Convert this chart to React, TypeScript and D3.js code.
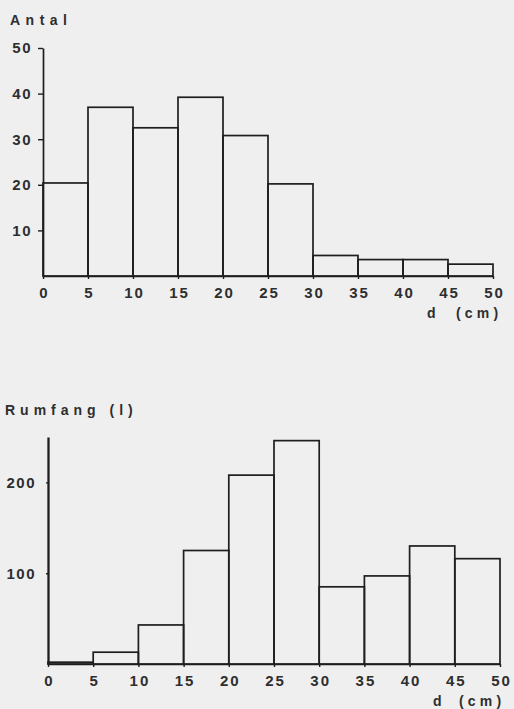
import React, { useRef, useEffect } from "react";
import { select, scaleLinear, axisLeft, axisBottom, range } from "d3";

// class edges for diameter d (cm)
const binStarts = [0, 5, 10, 15, 20, 25, 30, 35, 40, 45];
const binWidth = 5;
// number of trees per diameter class
const antal = [20.4, 37, 32.5, 39.2, 30.8, 20.2, 4.5, 3.6, 3.6, 2.6];
// volume (l) per diameter class
const rumfang = [2, 13, 43, 125, 208, 246, 85, 97, 130, 116];
const antalTicks = [10, 20, 30, 40, 50];
const rumfangTicks = [100, 200];
const xTicks = range(0, 55, 5);

const W = 514;
const H = 709;
const INK = "#1e1e1e";
const TXT = "#2e2e2e";
const FONT = "'Liberation Sans', Arial, sans-serif";

function drawPanel(svg, opts) {
  const { values, yMax, yTicks, left, right, top, bottom, tickLen, title, titleX, titleY, titleLs, unitY, dX, cmX, labelGap, axisW } = opts;
  const x = scaleLinear().domain([0, 50]).range([left, right]);
  const y = scaleLinear().domain([0, yMax]).range([bottom, top]);

  const g = svg.append("g");

  // bars
  g.selectAll("rect.bar")
    .data(binStarts.map((s, i) => ({ s, v: values[i] })))
    .join("rect")
    .attr("class", "bar")
    .attr("x", (d) => x(d.s))
    .attr("width", (d) => x(d.s + binWidth) - x(d.s))
    .attr("y", (d) => y(d.v))
    .attr("height", (d) => y(0) - y(d.v))
    .attr("fill", "none")
    .attr("stroke", INK)
    .attr("stroke-width", 1.7);

  // y axis
  const ya = g.append("g")
    .attr("transform", `translate(${left},0)`)
    .call(axisLeft(y).tickValues(yTicks).tickSize(tickLen).tickSizeOuter(0).tickPadding(labelGap).tickFormat((d) => String(d)));
  ya.select(".domain").attr("stroke", INK).attr("stroke-width", axisW);
  ya.selectAll(".tick line").attr("stroke", INK).attr("stroke-width", 1.4);
  ya.selectAll(".tick text")
    .attr("fill", TXT)
    .attr("font-family", FONT)
    .attr("font-weight", "bold")
    .attr("font-size", 15)
    .attr("letter-spacing", 1.5);

  // x axis
  const xa = g.append("g")
    .attr("transform", `translate(0,${bottom})`)
    .call(axisBottom(x).tickValues(xTicks).tickSize(3).tickSizeOuter(0).tickPadding(8).tickFormat((d) => String(d)));
  xa.select(".domain").attr("stroke", INK).attr("stroke-width", 1.7);
  xa.selectAll(".tick line").attr("stroke", INK).attr("stroke-width", 1.4);
  xa.selectAll(".tick text")
    .attr("fill", TXT)
    .attr("font-family", FONT)
    .attr("font-weight", "bold")
    .attr("font-size", 15)
    .attr("letter-spacing", 2)
    .attr("dx", 1);

  const label = (txt, px, py, ls, fs) =>
    g.append("text")
      .attr("x", px)
      .attr("y", py)
      .attr("fill", TXT)
      .attr("font-family", FONT)
      .attr("font-weight", "bold")
      .attr("font-size", fs)
      .attr("letter-spacing", ls)
      .text(txt);

  label(title, titleX, titleY, titleLs, 14);
  label("d", dX, unitY, 0, 14);
  label("(cm)", cmX, unitY, 4.2, 14);
}

export default function App() {
  const ref = useRef(null);

  useEffect(() => {
    const svg = select(ref.current);
    svg.selectAll("*").remove();
    svg.append("rect").attr("width", W).attr("height", H).attr("fill", "#efefef");

    drawPanel(svg, {
      values: antal, yMax: 50, yTicks: antalTicks,
      left: 43, right: 493, top: 48, bottom: 276,
      tickLen: 5, labelGap: 6, axisW: 1.7,
      title: "Antal", titleX: 10, titleY: 25, titleLs: 5.5,
      unitY: 318, dX: 427, cmX: 456,
    });

    drawPanel(svg, {
      values: rumfang, yMax: 250, yTicks: rumfangTicks,
      left: 48, right: 500, top: 437, bottom: 664,
      tickLen: 2, labelGap: 10, axisW: 2.3,
      title: "Rumfang (l)", titleX: 5, titleY: 415, titleLs: 5,
      unitY: 706, dX: 433, cmX: 459,
    });
  }, []);

  return (
    <div style={{ position: "absolute", left: 0, top: 0 }}>
      <svg ref={ref} width={W} height={H} style={{ display: "block" }} />
    </div>
  );
}
